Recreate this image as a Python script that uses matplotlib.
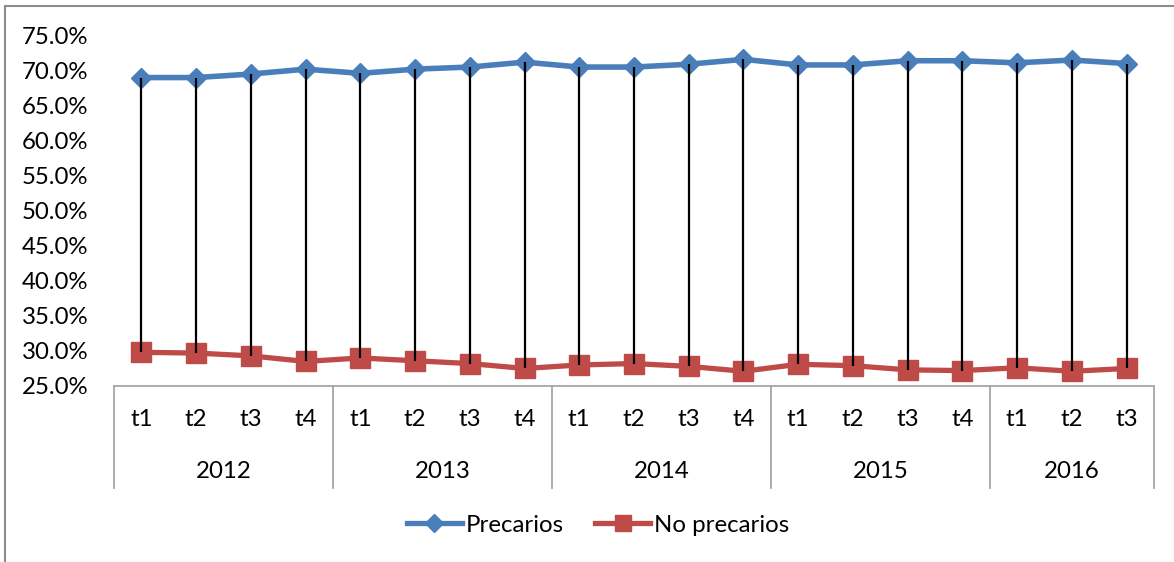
import matplotlib
matplotlib.use("Agg")
import matplotlib.pyplot as plt
from matplotlib.lines import Line2D
from matplotlib.transforms import blended_transform_factory

years = ["2012", "2013", "2014", "2015", "2016"]
quarters = ["t1", "t2", "t3", "t4", "t1", "t2", "t3", "t4", "t1", "t2", "t3", "t4",
            "t1", "t2", "t3", "t4", "t1", "t2", "t3"]
quarters_per_year = [4, 4, 4, 4, 3]
precarios = [69.0, 69.0, 69.5, 70.2, 69.6, 70.2, 70.5, 71.2, 70.5, 70.5,
             70.9, 71.6, 70.8, 70.8, 71.4, 71.4, 71.1, 71.5, 71.0]
no_precarios = [29.8, 29.7, 29.3, 28.5, 29.0, 28.6, 28.2, 27.5, 28.0, 28.2,
                27.8, 27.1, 28.1, 27.9, 27.3, 27.2, 27.6, 27.1, 27.5]
yticks = [25, 30, 35, 40, 45, 50, 55, 60, 65, 70, 75]

FONT = ["Lato", "DejaVu Sans"]
plt.rcParams["font.family"] = FONT
FS = 17.3
BLUE = "#4A7EBB"
RED = "#BE4B48"
GRAY = "#A6A6A6"

W, H = 1174, 562
fig = plt.figure(figsize=(W / 100, H / 100), dpi=100)
ax = fig.add_axes([114 / W, 1 - 386 / H, (1154 - 114) / W, (386 - 35.5) / H])

x = list(range(len(quarters)))

# high-low lines
ax.vlines(x, no_precarios, precarios, colors="black", linewidth=1.6, zorder=5)

ax.plot(x, precarios, color=BLUE, linewidth=4.0, marker="D", markersize=10.5,
        markerfacecolor=BLUE, markeredgecolor=BLUE, zorder=3, label="Precarios")
ax.plot(x, no_precarios, color=RED, linewidth=3.8, marker="s", markersize=14,
        markerfacecolor=RED, markeredgecolor=RED, zorder=3, label="No precarios")

ax.set_xlim(-0.5, len(quarters) - 0.5)
ax.set_ylim(25, 75)
ax.set_yticks(yticks)
ax.set_yticklabels([f"{v:.1f}%" for v in yticks], fontsize=FS)
ax.tick_params(axis="y", length=0, pad=18.5)
ax.set_xticks([])
for s in ["left", "right", "top", "bottom"]:
    ax.spines[s].set_visible(False)

# multi-level category axis
tr = blended_transform_factory(ax.transData, ax.transAxes)
ybot = -(488 - 386) / (386 - 35.5)
ax.plot([-0.5, len(quarters) - 0.5], [0, 0], transform=tr, color=GRAY,
        linewidth=1.3, clip_on=False, zorder=1)
bounds = [-0.5]
for n in quarters_per_year:
    bounds.append(bounds[-1] + n)
for b in bounds:
    ax.plot([b, b], [0, ybot], transform=tr, color=GRAY, linewidth=1.3,
            clip_on=False)
for i, q in enumerate(quarters):
    ax.text(i, -(420 - 386) / (386 - 35.5), q, transform=tr, ha="center",
            va="center", fontsize=FS)
for k, yr in enumerate(years):
    cx = (bounds[k] + bounds[k + 1]) / 2
    ax.text(cx, -(471 - 386) / (386 - 35.5), yr, transform=tr, ha="center",
            va="center", fontsize=FS)

# legend
handles = [
    Line2D([], [], color=BLUE, linewidth=3.8, marker="D", markersize=9,
           markerfacecolor=BLUE, markeredgecolor=BLUE),
    Line2D([], [], color=RED, linewidth=3.8, marker="s", markersize=12,
           markerfacecolor=RED, markeredgecolor=RED),
]
fig.legend(handles, ["Precarios", "No precarios"], loc="center",
           bbox_to_anchor=(598 / W, 1 - 525 / H), ncol=2, frameon=False,
           fontsize=FS, handlelength=2.3, handletextpad=0.15, columnspacing=1.3)

# outer chart border (left and top visible)
fig.add_artist(Line2D([5 / W, 5 / W], [0, 1 - 6 / H], color="#8C8C8C",
                      linewidth=1.5, transform=fig.transFigure))
fig.add_artist(Line2D([5 / W, 1], [1 - 6 / H, 1 - 6 / H], color="#8C8C8C",
                      linewidth=1.5, transform=fig.transFigure))

fig.savefig("out.png", dpi=100)
